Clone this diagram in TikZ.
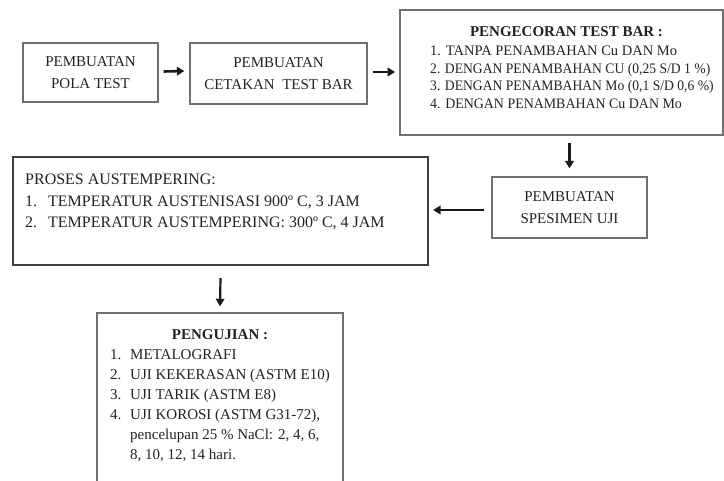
\documentclass[tikz,border=0pt]{standalone}
\usepackage{fontspec}
\usepackage{graphicx}
\setmainfont{Liberation Serif}
\usetikzlibrary{arrows.meta}
\definecolor{txtc}{HTML}{222222}
\definecolor{boxc}{HTML}{707070}
\tikzset{
  box/.style={draw=boxc, line width=1.2pt, inner sep=0pt, text=txtc},
  twoline/.style={align=center, font=\fontsize{15}{21.5}\selectfont},
  txt/.style={anchor=base west, inner sep=0pt, text=txtc},
  ttl/.style={anchor=base, inner sep=0pt, text=txtc},
  arr/.style={-{Triangle[length=7.5pt,width=8.5pt]}, line width=2.6pt, black!90},
}
\begin{document}
\begin{tikzpicture}[x=1pt,y=-1pt]
\useasboundingbox (0,0) rectangle (724,481);
\clip (0,0) rectangle (724,481);
% boxes
\node[box, twoline, minimum width=135pt, minimum height=59pt] (b1) at (90.5,72.5) {PEMBUATAN\\POLA TEST};
\node[box, twoline, minimum width=177pt, minimum height=61pt] (b2) at (278.5,73.5) {PEMBUATAN\\CETAKAN\ \ TEST BAR};
\node[box, line width=1.6pt, minimum width=323pt, minimum height=125pt] (b3) at (561.5,72.5) {};
\node[box, twoline, minimum width=155pt, minimum height=61pt] (b4) at (569.5,207.5) {PEMBUATAN\\SPESIMEN UJI};
\node[box, draw=black!75, line width=2.2pt, minimum width=415pt, minimum height=108pt] (b5) at (220.5,211) {};
\node[box, line width=1.4pt, minimum width=246pt, minimum height=177pt] (b6) at (220,401.5) {};
% box 3 text
\begin{scope}[every node/.append style={font=\fontsize{14.5}{17}\selectfont}]
\node[ttl, font=\fontsize{15}{17}\bfseries] (t30) at (566.5,37) {PENGECORAN TEST BAR :};
\node[txt] (t31) at (430,56) {1. TANPA PENAMBAHAN Cu DAN Mo};
\node[txt] (t32) at (430,73.5) {\scalebox{0.94}[1]{2. DENGAN PENAMBAHAN CU (0,25 S/D 1 \%)}};
\node[txt] (t33) at (430,91) {\scalebox{0.94}[1]{3. DENGAN PENAMBAHAN Mo (0,1 S/D 0,6 \%)}};
\node[txt] (t34) at (430,108.5) {\scalebox{0.96}[1]{4. DENGAN PENAMBAHAN Cu DAN Mo}};
\end{scope}
% box 5 text
\begin{scope}[every node/.append style={font=\fontsize{16}{20}\selectfont}]
\node[txt] (t50) at (25,185) {PROSES AUSTEMPERING:};
\node[txt] (t51) at (25,207) {\makebox[23pt][l]{1.}TEMPERATUR AUSTENISASI 900º C, 3 JAM};
\node[txt] (t52) at (25,228) {\makebox[23pt][l]{2.}TEMPERATUR AUSTEMPERING: 300º C, 4 JAM};
\end{scope}
% box 6 text
\begin{scope}[every node/.append style={font=\fontsize{15}{20}\selectfont}]
\node[ttl, font=\fontsize{15}{20}\bfseries] (t60) at (220,340) {PENGUJIAN :};
\node[txt] (t61) at (110,360) {\makebox[20pt][l]{1.}METALOGRAFI};
\node[txt] (t62) at (110,380) {\makebox[20pt][l]{2.}UJI KEKERASAN (ASTM E10)};
\node[txt] (t63) at (110,400) {\makebox[20pt][l]{3.}UJI TARIK (ASTM E8)};
\node[txt] (t64) at (110,420) {\makebox[20pt][l]{4.}UJI KOROSI (ASTM G31-72),};
\node[txt] (t65) at (130,440) {pencelupan 25 \% NaCl: 2, 4, 6,};
\node[txt] (t66) at (130,460) {8, 10, 12, 14 hari.};
\end{scope}
% arrows
\draw[arr] ([xshift=5pt,yshift=1pt]b1.east) -- ([xshift=-5pt]b2.west |- 0,71);
\draw[arr] ([xshift=5pt,yshift=1.5pt]b2.east) -- ([xshift=-4pt]b3.west |- 0,72);
\draw[arr, line width=2.2pt] ([yshift=-7pt]b3.south -| b4.north) -- ([yshift=8pt]b4.north);
\draw[arr] ([xshift=-7pt]b4.west |- 0,210) -- ([xshift=4pt]b5.east |- 0,210);
\draw[arr, line width=2.2pt] ([yshift=-12pt]b5.south) -- ([yshift=6pt]b6.north);
\end{tikzpicture}
\end{document}
